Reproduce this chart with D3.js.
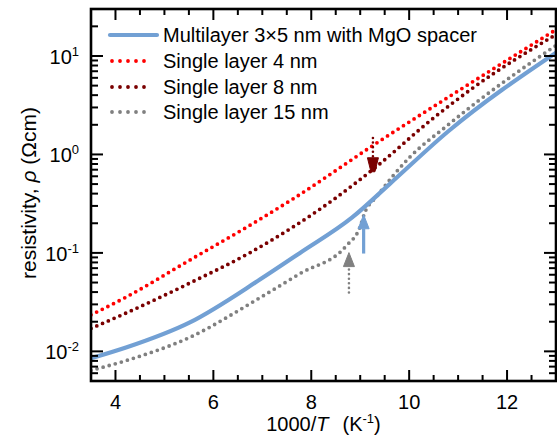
<!DOCTYPE html>
<html>
<head>
<meta charset="utf-8">
<script src="https://cdn.jsdelivr.net/npm/d3@7"></script>
<style>
body { margin: 0; background: #fff; }
text { font-family: "Liberation Sans", Arial, sans-serif; fill: #000; }
</style>
</head>
<body>
<script>
// data (x = 1000/T, y = resistivity in Ohm cm)
var seriesNames = ["Multilayer 3\u00d75 nm with MgO spacer", "Single layer 4 nm", "Single layer 8 nm", "Single layer 15 nm"];
var seriesColors = ["#72a0d4", "#ff0000", "#7a0000", "#808080"];

var xBlue = [3.5, 4.23, 5.52, 6.95, 7.77, 8.83, 9.6, 10.8, 13.0];
var yBlue = [0.0085, 0.011, 0.0197, 0.0536, 0.1, 0.228, 0.5, 1.72, 10.8];

var xRed = [3.5, 4.2, 5.5, 6.8, 7.6, 9.4, 11.0, 13.0];
var yRed = [0.0235, 0.0352, 0.0835, 0.198, 0.347, 1.37, 4.41, 18.5];

var xDark = [3.5, 4.2, 5.5, 6.75, 8.45, 9.3, 10.5, 11.3, 13.0];
var yDark = [0.0171, 0.0243, 0.0489, 0.1007, 0.347, 0.731, 2.35, 4.73, 16.5];

var xGray = [3.5, 4.23, 5.52, 6.89, 7.77, 8.72, 8.99, 9.09, 9.34, 10.0, 10.77, 11.38, 13.0];
var yGray = [0.0064, 0.0081, 0.0139, 0.0336, 0.0617, 0.1186, 0.18, 0.254, 0.376, 0.925, 1.95, 3.4, 12.8];

// arrows: x position, tail value, tip value
var arrowX = [9.26, 9.07, 8.77];
var arrowTail = [1.47, 0.0985, 0.0396];
var arrowTip = [0.667, 0.244, 0.1007];
var arrowColors = ["#7a0000", "#72a0d4", "#808080"];
var arrowDotted = [true, false, true];

var xTicks = [4, 6, 8, 10, 12];
var yTicks = [0.01, 0.1, 1, 10];

var width = 557, height = 446;
var pLeft = 91, pRight = 556, pTop = 9, pBottom = 381;

var x = d3.scaleLinear().domain([3.5, 13]).range([pLeft, pRight]);
var y = d3.scaleLog().domain([0.005, 30]).range([pBottom, pTop]);

var svg = d3.select("body").append("svg")
    .attr("width", width)
    .attr("height", height);

svg.append("defs").append("clipPath").attr("id", "clip")
  .append("rect")
    .attr("x", pLeft).attr("y", pTop)
    .attr("width", pRight - pLeft).attr("height", pBottom - pTop);

var line = d3.line()
    .x(function(d) { return x(d[0]); })
    .y(function(d) { return y(d[1]); })
    .curve(d3.curveMonotoneX);

var series = [
  { xs: xGray, ys: yGray, color: seriesColors[3], dotted: true },
  { xs: xDark, ys: yDark, color: seriesColors[2], dotted: true },
  { xs: xRed, ys: yRed, color: seriesColors[1], dotted: true },
  { xs: xBlue, ys: yBlue, color: seriesColors[0], dotted: false }
];

var plot = svg.append("g").attr("clip-path", "url(#clip)");

series.forEach(function(s) {
  var pts = s.xs.map(function(v, i) { return [v, s.ys[i]]; });
  var p = plot.append("path")
      .attr("d", line(pts))
      .attr("fill", "none")
      .attr("stroke", s.color);
  if (s.dotted) {
    p.attr("stroke-width", 3.8)
     .attr("stroke-linecap", "round")
     .attr("stroke-dasharray", "0 6.3");
  } else {
    p.attr("stroke-width", 4.2);
  }
});

// arrows
arrowX.forEach(function(ax, i) {
  var px = x(ax);
  var ty = y(arrowTail[i]), hy = y(arrowTip[i]);
  var dir = hy < ty ? -1 : 1;   // -1 = pointing up
  var headLen = 14, headW = 5.5;
  var baseY = hy - dir * headLen;
  var stem = svg.append("line")
      .attr("x1", px).attr("x2", px)
      .attr("y1", ty).attr("y2", baseY)
      .attr("stroke", arrowColors[i]);
  if (arrowDotted[i]) {
    stem.attr("stroke-width", 2.6)
        .attr("stroke-linecap", "round")
        .attr("stroke-dasharray", "0 4.6");
  } else {
    stem.attr("stroke-width", 3.2);
  }
  // the dark red head is blunt (trapezoid), the others are plain triangles
  var tipW = i == 0 ? 2 : 0;
  svg.append("path")
      .attr("d", "M" + (px - headW) + "," + baseY + "L" + (px + headW) + "," + baseY +
                 "L" + (px + tipW) + "," + hy + "L" + (px - tipW) + "," + hy + "Z")
      .attr("fill", arrowColors[i])
      .attr("stroke", arrowColors[i])
      .attr("stroke-width", 1);
});

// frame and ticks on all four sides
var axes = svg.append("g").attr("stroke", "#000");

var xMinor = d3.range(3.5, 13.01, 0.5);
xMinor.forEach(function(v) {
  var major = Math.abs(v - Math.round(v / 2) * 2) < 1e-6;
  var len = major ? 11 : 6;
  axes.append("line").attr("x1", x(v)).attr("x2", x(v))
      .attr("y1", pBottom).attr("y2", pBottom - len).attr("stroke-width", 2);
  axes.append("line").attr("x1", x(v)).attr("x2", x(v))
      .attr("y1", pTop).attr("y2", pTop + len).attr("stroke-width", 2);
});

var yAll = [];
[0.001, 0.01, 0.1, 1, 10].forEach(function(dec) {
  for (var k = 1; k <= 9; k++) yAll.push(dec * k);
});
yAll.forEach(function(v) {
  if (v < 0.005 || v > 30) return;
  var major = yTicks.some(function(t) { return Math.abs(t - v) / t < 1e-6; });
  var len = major ? 12 : 7;
  axes.append("line").attr("x1", pLeft).attr("x2", pLeft + len)
      .attr("y1", y(v)).attr("y2", y(v)).attr("stroke-width", 2);
  axes.append("line").attr("x1", pRight).attr("x2", pRight - len)
      .attr("y1", y(v)).attr("y2", y(v)).attr("stroke-width", 2);
});

axes.append("rect")
    .attr("x", pLeft).attr("y", pTop)
    .attr("width", pRight - pLeft).attr("height", pBottom - pTop)
    .attr("fill", "none").attr("stroke-width", 2.6);

// tick labels
svg.selectAll("text.xt")
    .data(xTicks)
  .enter().append("text")
    .attr("class", "xt")
    .attr("x", function(d) { return x(d); })
    .attr("y", 409)
    .attr("text-anchor", "middle")
    .attr("font-size", 20)
    .text(function(d) { return d; });

var yl = svg.selectAll("text.yt")
    .data(yTicks)
  .enter().append("text")
    .attr("class", "yt")
    .attr("x", 79)
    .attr("y", function(d) { return y(d) + 8; })
    .attr("text-anchor", "end")
    .attr("font-size", 20);
yl.append("tspan").text("10");
yl.append("tspan")
    .attr("dy", -8)
    .attr("font-size", 13)
    .text(function(d) { return String(Math.round(Math.log10(d))); });

// axis titles
var xt = svg.append("text")
    .attr("x", (pLeft + pRight) / 2)
    .attr("y", 431)
    .attr("text-anchor", "middle")
    .attr("font-size", 20);
xt.append("tspan").text("1000/");
xt.append("tspan").attr("font-style", "italic").text("T");
xt.append("tspan").attr("dx", 14).text("(K");
xt.append("tspan").attr("dy", -8).attr("font-size", 13).text("-1");
xt.append("tspan").attr("dy", 8).text(")");

var yt = svg.append("text")
    .attr("transform", "translate(36," + 193 + ") rotate(-90)")
    .attr("text-anchor", "middle")
    .attr("font-size", 21);
yt.append("tspan").text("resistivity, ");
yt.append("tspan").attr("font-style", "italic").text("\u03c1");
yt.append("tspan").text(" (\u03a9cm)");

// legend
var legY = [35, 61, 87, 112];
var leg = svg.selectAll("g.leg")
    .data(seriesNames)
  .enter().append("g")
    .attr("class", "leg")
    .attr("transform", function(d, i) { return "translate(0," + legY[i] + ")"; });
leg.append("line")
    .attr("x1", function(d, i) { return i == 0 ? 110 : 112; })
    .attr("x2", function(d, i) { return i == 0 ? 157 : 152; })
    .attr("stroke", function(d, i) { return seriesColors[i]; })
    .attr("stroke-width", function(d, i) { return i == 0 ? 4.2 : 3.8; })
    .attr("stroke-linecap", "round")
    .attr("stroke-dasharray", function(d, i) { return i == 0 ? null : "0 8"; });
leg.append("text")
    .attr("x", 163)
    .attr("y", 7)
    .attr("font-size", 20)
    .text(function(d) { return d; });
</script>
</body>
</html>
